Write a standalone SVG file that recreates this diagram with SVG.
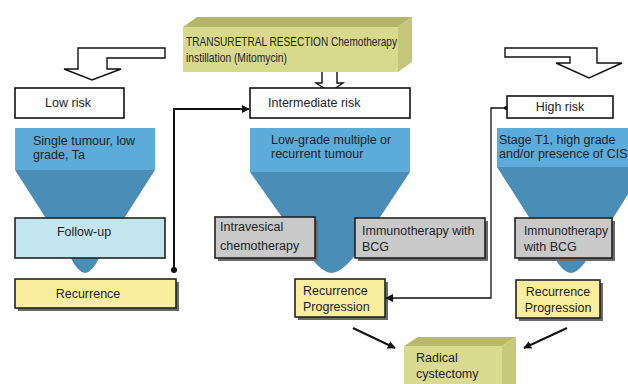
<svg xmlns="http://www.w3.org/2000/svg" width="628" height="384" viewBox="0 0 628 384">
<defs>
<style>
text{font-family:"Liberation Sans",Arial,sans-serif;font-size:12.5px;fill:#1e2328;}
.ttl{font-size:13px;}
.box{fill:#fff;stroke:#111;stroke-width:1.6;}
.light{fill:#5cabd8;}
.dark{fill:#4a8db7;}
.gray{fill:#c9c9c9;stroke:#222;stroke-width:1.6;}
.yel{fill:#f8ee9e;stroke:#222;stroke-width:1.6;}
.cyan{fill:#c3e5ee;stroke:#222;stroke-width:1.6;}
.shadow{fill:#6a6a6a;}
.blk{fill:#fff;stroke:#111;stroke-width:1.4;stroke-linejoin:miter;}
.conn{fill:none;stroke:#111;stroke-width:2;}
.thin{fill:none;stroke:#111;stroke-width:1.3;}
.dgn{fill:none;stroke:#111;stroke-width:2;}
</style>
<marker id="ah" viewBox="0 0 10 10" refX="9" refY="5" markerWidth="4" markerHeight="4" orient="auto"><path d="M0,0L10,5L0,10z" fill="#111"/></marker>
<marker id="ah2" viewBox="0 0 10 10" refX="9" refY="5" markerWidth="6" markerHeight="6" orient="auto"><path d="M0,0L10,5L0,10z" fill="#111"/></marker>
<marker id="dot" viewBox="0 0 10 10" refX="5" refY="5" markerWidth="3" markerHeight="3"><circle cx="5" cy="5" r="5" fill="#111"/></marker>
</defs>

<g id="top-box">
<polygon points="183,27 197,17 412,17 398,27" fill="#b4b46a"/>
<polygon points="398,27 412,17 412,62 398,72" fill="#c6c67a"/>
<rect x="183" y="27" width="215" height="45" fill="#d9d98e"/>
<text class="ttl" x="186" y="46" textLength="211" lengthAdjust="spacingAndGlyphs">TRANSURETRAL RESECTION Chemotherapy</text>
<text class="ttl" x="186" y="62" textLength="101" lengthAdjust="spacingAndGlyphs">instillation (Mitomycin)</text>
</g>

<g id="arrow-left">
<path class="blk" d="M165,48 H78 V69 H64 L92,80 L121,69 H107 V58 H165 Z"/>
</g>
<g id="arrow-right">
<path class="blk" d="M505,48 H597 V63 H622 L589,78 L556,63 H570 V57 H505 Z"/>
</g>
<g id="arrow-mid">
<path class="blk" d="M322,72 V83 H316 L330,92 L343,83 H337 V72"/>
</g>

<!-- Low risk column -->
<g id="low-funnel">
<rect class="light" x="15" y="128" width="140" height="42"/>
<path class="dark" d="M15,170 H155 L100,256 Q93,272 85,273 Q77,272 70,256 Z"/>
<text x="33" y="145">Single tumour, low</text>
<text x="33" y="159">grade, Ta</text>
</g>
<g id="low-risk">
<rect class="box" x="15" y="88" width="109" height="30"/>
<text x="68" y="107" text-anchor="middle">Low risk</text>
</g>
<g id="follow-up">
<rect class="cyan" x="15" y="218" width="150" height="40"/>
<text x="84" y="236" text-anchor="middle">Follow-up</text>
</g>
<g id="recurrence">
<rect class="shadow" x="18" y="282" width="161" height="29"/>
<rect class="yel" x="15" y="279" width="161" height="29"/>
<text x="88" y="298" text-anchor="middle">Recurrence</text>
</g>

<!-- Intermediate column -->
<g id="mid-funnel">
<rect class="light" x="250" y="128" width="160" height="44"/>
<path class="dark" d="M250,172 H410 L353,258 Q340,273 331,273 Q322,272 311,258 Z"/>
<text x="271" y="144">Low-grade multiple or</text>
<text x="271" y="158">recurrent tumour</text>
</g>
<g id="intermediate-risk">
<rect class="box" x="250" y="88" width="160" height="30"/>
<text x="268" y="107">Intermediate risk</text>
</g>
<g id="intravesical">
<rect class="shadow" x="218" y="220" width="100" height="41"/>
<rect class="gray" x="215" y="217" width="100" height="41"/>
<text x="220" y="231">Intravesical</text>
<text x="220" y="250">chemotherapy</text>
</g>
<g id="immuno-mid">
<rect class="shadow" x="358" y="221" width="130" height="40"/>
<rect class="gray" x="355" y="218" width="130" height="40"/>
<text x="362" y="235">Immunotherapy with</text>
<text x="362" y="251">BCG</text>
</g>
<g id="rp-mid">
<rect class="shadow" x="298" y="282" width="90" height="38"/>
<rect class="yel" x="295" y="279" width="90" height="38"/>
<text x="303" y="295">Recurrence</text>
<text x="303" y="311">Progression</text>
</g>

<!-- High risk column -->
<g id="high-funnel">
<rect class="light" x="497" y="128" width="131" height="39"/>
<path class="dark" d="M497,167 H645 L588,258 Q578,273 571,273 Q562,272 555,258 Z"/>
<text x="499" y="144">Stage T1, high grade</text>
<text x="499" y="158">and/or presence of CIS</text>
</g>
<g id="high-risk">
<rect class="box" x="507" y="96" width="106" height="22"/>
<text x="560" y="111" text-anchor="middle">High risk</text>
</g>
<g id="immuno-high">
<rect class="shadow" x="518" y="221" width="97" height="40"/>
<rect class="gray" x="515" y="218" width="97" height="40"/>
<text x="524" y="235" textLength="84" lengthAdjust="spacingAndGlyphs">Immunotherapy</text>
<text x="524" y="251">with BCG</text>
</g>
<g id="rp-high">
<rect class="shadow" x="519" y="283" width="84" height="38"/>
<rect class="yel" x="516" y="280" width="84" height="38"/>
<text x="558" y="296" text-anchor="middle">Recurrence</text>
<text x="558" y="312" text-anchor="middle">Progression</text>
</g>

<g id="radical-cystectomy">
<polygon points="404,346 418,337 516,337 502,346" fill="#b9b96c"/>
<polygon points="502,346 516,337 516,384 502,384" fill="#c9c97e"/>
<rect x="404" y="346" width="98" height="38" fill="#dada90"/>
<text x="416" y="362">Radical</text>
<text x="416" y="378">cystectomy</text>
</g>

<g id="connectors">
<path class="conn" d="M174,270 V109 H249" marker-start="url(#dot)" marker-end="url(#ah)"/>
<path class="thin" d="M506,108 H491 V298 H386" marker-start="url(#dot)" marker-end="url(#ah2)"/>
<line class="dgn" x1="353" y1="328" x2="395" y2="348" marker-end="url(#ah)"/>
<line class="dgn" x1="567" y1="328" x2="524" y2="348" marker-end="url(#ah)"/>
</g>
</svg>
